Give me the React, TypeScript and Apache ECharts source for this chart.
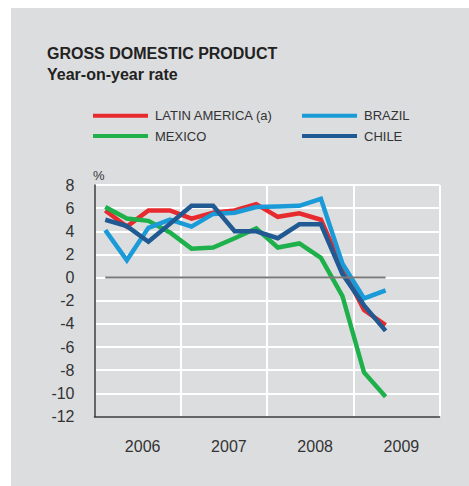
import React, { useEffect, useRef } from "react";
import * as echarts from "echarts";

const quarters = [
  "2006Q1", "2006Q2", "2006Q3", "2006Q4",
  "2007Q1", "2007Q2", "2007Q3", "2007Q4",
  "2008Q1", "2008Q2", "2008Q3", "2008Q4",
  "2009Q1", "2009Q2",
];
const years = ["2006", "2007", "2008", "2009"];
const latinAmerica = [5.8, 4.4, 5.8, 5.8, 5.1, 5.6, 5.8, 6.35, 5.25, 5.55, 5.0, 0.8, -2.8, -4.1];
const brazil = [4.1, 1.5, 4.3, 5.0, 4.4, 5.5, 5.6, 6.1, 6.15, 6.2, 6.8, 1.2, -1.8, -1.1];
const mexico = [6.1, 5.1, 4.9, 3.9, 2.5, 2.6, 3.4, 4.25, 2.6, 2.95, 1.7, -1.6, -8.2, -10.3];
const chile = [5.0, 4.45, 3.1, 4.65, 6.2, 6.2, 4.0, 4.0, 3.4, 4.6, 4.6, 0.3, -2.4, -4.6];
const zeroLine = quarters.map(() => 0);
const yTicks = { min: -12, max: 8, interval: 2 };

const FONT = "'Liberation Sans', Arial, Helvetica, sans-serif";
const TXT = "#333333";

const toPoints = (vals: number[]) => vals.map((v, i) => [i + 0.5, v]);

export default function App() {
  const ref = useRef<HTMLDivElement>(null);
  useEffect(() => {
    document.body.style.margin = "0";
    if (!ref.current) return;
    const chart = echarts.init(ref.current, null, { renderer: "svg" });
    const lineSeries = (name: string, data: number[], color: string, z: number) => ({
      name,
      type: "line",
      xAxisIndex: 0,
      yAxisIndex: 0,
      data: toPoints(data),
      showSymbol: false,
      symbol: "none",
      z,
      lineStyle: { color, width: 4.5, join: "miter" },
      itemStyle: { color },
    });
    chart.setOption({
      animation: false,
      backgroundColor: "#ffffff",
      textStyle: { fontFamily: FONT },
      graphic: [
        {
          type: "rect",
          z: -10,
          silent: true,
          shape: { x: 11, y: 8, width: 458, height: 478 },
          style: { fill: "#dcdddf" },
        },
        {
          type: "text",
          left: 47,
          top: 45,
          style: { text: "GROSS DOMESTIC PRODUCT", font: `bold 16px ${FONT}`, fill: "#222222" },
        },
        {
          type: "text",
          left: 47,
          top: 66,
          style: { text: "Year-on-year rate", font: `bold 16px ${FONT}`, fill: "#222222" },
        },
        {
          type: "text",
          left: 93,
          top: 169,
          style: { text: "%", font: `13px ${FONT}`, fill: TXT },
        },
      ],
      legend: [
        {
          orient: "vertical",
          left: 93,
          top: 108.7,
          padding: 0,
          itemWidth: 55,
          itemHeight: 4,
          itemGap: 6.3,
          icon: "rect",
          data: ["LATIN AMERICA (a)", "MEXICO"],
          textStyle: { color: TXT, fontSize: 13, lineHeight: 14, fontFamily: FONT, padding: [0, 0, 0, 2] },
        },
        {
          orient: "vertical",
          left: 302,
          top: 108.7,
          padding: 0,
          itemWidth: 55,
          itemHeight: 4,
          itemGap: 6.3,
          icon: "rect",
          data: ["BRAZIL", "CHILE"],
          textStyle: { color: TXT, fontSize: 13, lineHeight: 14, fontFamily: FONT, padding: [0, 0, 0, 2] },
        },
      ],
      grid: { left: 94.5, top: 185, width: 345, height: 231.5 },
      xAxis: [
        {
          type: "value",
          min: 0,
          max: 16,
          interval: 4,
          axisLine: { show: true, onZero: false, lineStyle: { color: "#333333", width: 1.5 } },
          axisTick: { show: false },
          axisLabel: { show: false },
          splitLine: { show: true, lineStyle: { color: "#ffffff", width: 2 } },
        },
        {
          type: "category",
          data: years,
          position: "bottom",
          boundaryGap: true,
          axisLine: { show: false },
          axisTick: { show: false },
          splitLine: { show: false },
          axisLabel: { color: TXT, fontSize: 16, margin: 22, padding: [0, 0, 0, 10], fontFamily: FONT },
        },
      ],
      yAxis: {
        type: "value",
        min: yTicks.min,
        max: yTicks.max,
        interval: yTicks.interval,
        axisLine: { show: true, lineStyle: { color: "#333333", width: 1.5 } },
        axisTick: { show: false },
        axisLabel: { color: TXT, fontSize: 16, margin: 20, fontFamily: FONT },
        splitLine: { show: true, lineStyle: { color: "#ffffff", width: 2 } },
      },
      series: [
        lineSeries("LATIN AMERICA (a)", latinAmerica, "#e62a2e", 2),
        lineSeries("MEXICO", mexico, "#1eb14b", 3),
        lineSeries("BRAZIL", brazil, "#1a9bd7", 4),
        lineSeries("CHILE", chile, "#215a93", 5),
        {
          name: "zero",
          type: "line",
          data: toPoints(zeroLine),
          symbol: "none",
          z: 6,
          lineStyle: { color: "#7a7a7a", width: 2 },
          itemStyle: { color: "#7a7a7a" },
        },
      ],
    });
    return () => chart.dispose();
  }, []);
  return <div ref={ref} style={{ width: 469, height: 486 }} />;
}
